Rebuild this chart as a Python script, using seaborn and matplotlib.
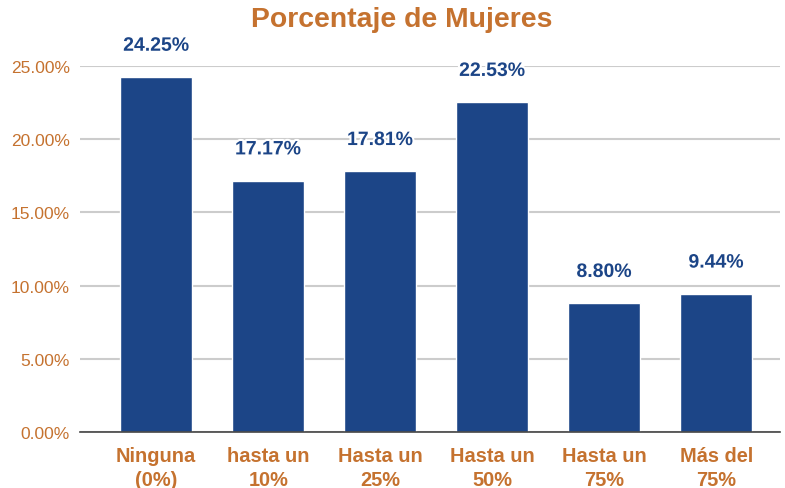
import matplotlib
matplotlib.use("Agg")
import matplotlib.pyplot as plt
import matplotlib.patheffects as pe
import matplotlib.ticker as ticker
import seaborn as sns
import pandas as pd

categorias = ["Ninguna\n(0%)", "hasta un\n10%", "Hasta un\n25%", "Hasta un\n50%", "Hasta un\n75%", "Más del\n75%"]
valores = [24.25, 17.17, 17.81, 22.53, 8.80, 9.44]

azul = "#1c4587"
naranja = "#c5722f"

sns.set_theme(style="white")
plt.rcParams["font.family"] = ["Liberation Sans", "DejaVu Sans"]

df = pd.DataFrame({"cat": categorias, "val": valores})

fig = plt.figure(figsize=(7.85, 4.89), dpi=100)
ax = fig.add_axes([0.102, 0.1145, 0.8916, 0.7485])
sns.barplot(data=df, x="cat", y="val", color=azul, saturation=1, width=0.64, ax=ax, zorder=3)

ax.set_ylim(0, 25)
ax.set_xlim(-0.68, 5.57)
ax.yaxis.set_major_locator(ticker.MultipleLocator(5))
ax.yaxis.set_major_formatter(ticker.FuncFormatter(lambda v, p: f"{v:.2f}%"))
ax.grid(axis="y", color="#cccccc", linewidth=1.5, zorder=0)
ax.set_axisbelow(True)
for s in ["top", "right", "left"]:
    ax.spines[s].set_visible(False)
ax.spines["bottom"].set_color("#444444")
ax.spines["bottom"].set_linewidth(1.2)
ax.spines["bottom"].set_zorder(4)
ax.tick_params(axis="y", length=0, labelsize=12.5, labelcolor=naranja, pad=7.5)
ax.tick_params(axis="x", length=0, labelsize=14.4, labelcolor=naranja, pad=10)
for t in ax.get_xticklabels():
    t.set_fontweight("bold")
    t.set_linespacing(1.32)
ax.set_xlabel("")
ax.set_ylabel("")

for i, v in enumerate(valores):
    ax.annotate(f"{v:.2f}%", (i, v), xytext=(0, 16), textcoords="offset points",
                ha="center", va="bottom", fontsize=14, fontweight="bold", color=azul,
                clip_on=False,
                path_effects=[pe.withStroke(linewidth=3, foreground="white")])

fig.suptitle("Porcentaje de Mujeres", x=0.512, y=0.985, fontsize=20.4, fontweight="bold", color=naranja)

fig.savefig("out.png", dpi=100)
